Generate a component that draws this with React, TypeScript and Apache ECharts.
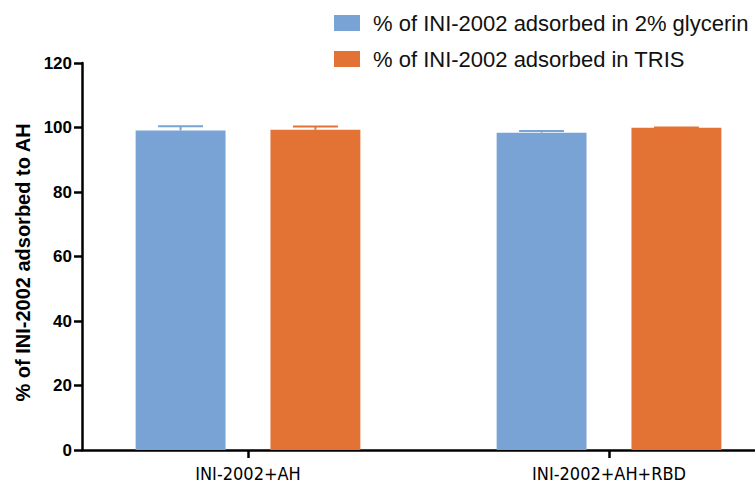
import React, { useEffect, useRef } from "react";
import * as echarts from "echarts";

const categories = ["INI-2002+AH", "INI-2002+AH+RBD"];
const seriesNames = [
  "% of INI-2002 adsorbed in 2% glycerin",
  "% of INI-2002 adsorbed in TRIS",
];
const glycerinValues = [99.1, 98.4];
const glycerinErrTop = [100.4, 98.9];
const trisValues = [99.3, 99.9];
const trisErrTop = [100.3, 100.0];
const yTicks = { min: 0, max: 120, interval: 20 };
const colors = ["#7AA3D5", "#E37235"];
const yTitle = "% of INI-2002 adsorbed to AH";

const NARROW = "'Liberation Sans Narrow', 'DejaVu Sans Condensed', 'Liberation Sans', Arial, sans-serif";
const SANS = "'Liberation Sans', Arial, sans-serif";

function errSeries(values: number[], tops: number[], side: number, color: string) {
  return {
    type: "custom",
    xAxisIndex: 1,
    yAxisIndex: 1,
    z: 3,
    silent: true,
    encode: { x: 0, y: [1, 2] },
    data: values.map((v, i) => [i, v, tops[i]]),
    renderItem: (params: any, api: any) => {
      const idx = api.value(0);
      const val = api.value(1);
      const top = api.value(2);
      const c = api.coord([idx, val]);
      const t = api.coord([idx, top]);
      const band = api.size([1, 0])[0];
      const bw = band * 0.249;
      const x = c[0] + side * bw * 0.75;
      const half = bw / 4;
      const style = { stroke: color, lineWidth: 2 };
      return {
        type: "group",
        children: [
          { type: "line", shape: { x1: x, y1: c[1], x2: x, y2: t[1] }, style },
          { type: "line", shape: { x1: x - half, y1: t[1], x2: x + half, y2: t[1] }, style },
        ],
      };
    },
  };
}

export default function App() {
  const ref = useRef<HTMLDivElement>(null);
  useEffect(() => {
    if (!ref.current) return;
    const chart = echarts.init(ref.current, undefined, { renderer: "svg" });
    chart.setOption({
      animation: false,
      backgroundColor: "#ffffff",
      legend: {
        orient: "vertical",
        left: 334,
        top: 12,
        padding: 0,
        itemWidth: 26,
        itemHeight: 16,
        itemGap: 14,
        icon: "rect",
        data: seriesNames,
        textStyle: {
          fontFamily: SANS,
          fontSize: 22,
          lineHeight: 16,
          color: "#111",
          padding: [0, 0, 0, 8],
        },
      },
      grid: [
        { left: 82, right: 0, top: 63, bottom: 35, outerBoundsMode: "none" },
        { left: 67.5, width: 722, top: 63, bottom: 35, outerBoundsMode: "none" },
      ],
      xAxis: [
        {
          type: "category",
          gridIndex: 0,
          data: [""],
          axisLine: { show: true, lineStyle: { color: "#000", width: 2.5 } },
          axisTick: { show: false },
          axisLabel: { show: false },
          splitLine: { show: false },
        },
        {
          type: "category",
          gridIndex: 1,
          data: categories,
          axisLine: { show: false },
          axisTick: {
            show: true,
            alignWithLabel: true,
            length: 8,
            lineStyle: { color: "#000", width: 2.5 },
          },
          axisLabel: {
            fontFamily: NARROW,
            fontSize: 18,
            color: "#000",
            margin: 14,
          },
          splitLine: { show: false },
        },
      ],
      yAxis: [
        {
          type: "value",
          gridIndex: 0,
          min: yTicks.min,
          max: yTicks.max,
          interval: yTicks.interval,
          name: yTitle,
          nameLocation: "middle",
          nameRotate: 90,
          nameGap: 40,
          nameTextStyle: {
            fontFamily: SANS,
            fontWeight: "bold",
            fontSize: 20,
            color: "#000",
            padding: [0, 12, 0, 0],
          },
          axisLine: { show: true, lineStyle: { color: "#000", width: 2.5 } },
          axisTick: { show: true, length: 8, lineStyle: { color: "#000", width: 2.5 } },
          axisLabel: {
            fontFamily: SANS,
            fontWeight: "bold",
            fontSize: 17,
            color: "#000",
            margin: 10,
          },
          splitLine: { show: false },
        },
        {
          type: "value",
          gridIndex: 1,
          min: yTicks.min,
          max: yTicks.max,
          interval: yTicks.interval,
          show: false,
          splitLine: { show: false },
        },
      ],
      series: [
        {
          name: seriesNames[0],
          type: "bar",
          xAxisIndex: 1,
          yAxisIndex: 1,
          data: glycerinValues,
          barWidth: "24.9%",
          barGap: "50%",
          itemStyle: { color: colors[0] },
        },
        {
          name: seriesNames[1],
          type: "bar",
          xAxisIndex: 1,
          yAxisIndex: 1,
          data: trisValues,
          barWidth: "24.9%",
          barGap: "50%",
          itemStyle: { color: colors[1] },
        },
        errSeries(glycerinValues, glycerinErrTop, -1, colors[0]),
        errSeries(trisValues, trisErrTop, 1, colors[1]),
      ],
    });
    return () => chart.dispose();
  }, []);
  return (
    <div
      ref={ref}
      style={{ position: "fixed", left: 0, top: 0, width: 755, height: 485 }}
    />
  );
}
